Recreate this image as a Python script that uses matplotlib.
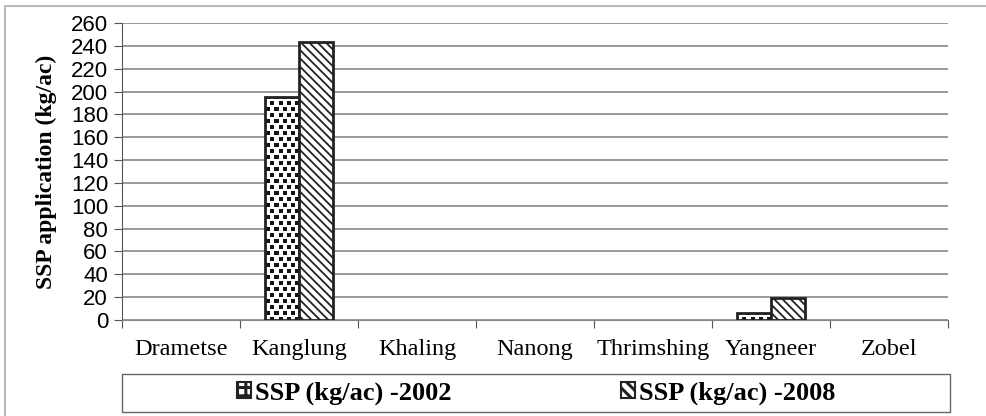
import numpy as np
import matplotlib
matplotlib.use("Agg")
import matplotlib.pyplot as plt
from matplotlib.patches import Rectangle, Patch

sites = ["Drametse", "Kanglung", "Khaling", "Nanong", "Thrimshing", "Yangneer", "Zobel"]
ssp_2002 = [0, 195, 0, 0, 0, 6, 0]
ssp_2008 = [0, 243, 0, 0, 0, 19, 0]
labels = ["SSP (kg/ac) -2002", "SSP (kg/ac) -2008"]
yticks = list(range(0, 261, 20))

W, H = 986, 416
ax_px = (122, 23, 948, 320)  # left, top, right, bottom in pixels

fig = plt.figure(figsize=(W/100, H/100), dpi=100)
ax = fig.add_axes([ax_px[0]/W, 1 - ax_px[3]/H, (ax_px[2]-ax_px[0])/W, (ax_px[3]-ax_px[1])/H])

# square-dot texture (pixel pattern) for the 2002 bars
tw, th = ax_px[2] - ax_px[0], ax_px[3] - ax_px[1]
tex = np.ones((th, tw))
for r in range(0, th, 6):
    shift = 4 if (r // 6) % 2 else 0
    for c in range(shift, tw, 8):
        tex[r:r+4, c:c+4] = 0.08

x = np.arange(len(sites))
w = 0.29
b1 = ax.bar(x - w/2, ssp_2002, w, color="white", edgecolor="none", zorder=2)
for b, v in zip(b1, ssp_2002):
    if v == 0:
        b.set_visible(False)
        continue
    im = ax.imshow(tex[::-1], extent=(-0.5, len(sites) - 0.5, 0, 260), origin="lower",
                   cmap="gray", vmin=0, vmax=1, interpolation="nearest", aspect="auto",
                   zorder=3)
    im.set_clip_path(b)
e1 = ax.bar(x - w/2, ssp_2002, w, fill=False, edgecolor="#222222", linewidth=2, zorder=4)

with plt.rc_context({'hatch.linewidth': 1.3}):
    b2 = ax.bar(x + w/2, ssp_2008, w, color="white", edgecolor="#222222", hatch="\\\\\\\\",
                linewidth=2, zorder=4)

for bars, vals in [(e1, ssp_2002), (b2, ssp_2008)]:
    for b, v in zip(bars, vals):
        if v == 0:
            b.set_visible(False)

ax.set_xlim(-0.5, len(sites) - 0.5)
ax.set_ylim(0, 260)
ax.set_yticks(yticks)
ax.set_yticklabels([str(v) for v in yticks], fontfamily="Liberation Sans", fontsize=16)
ax.yaxis.grid(True, color="#888888", linewidth=1.2, zorder=0)
ax.set_axisbelow(True)
ax.set_xticks(np.arange(-0.5, len(sites)), minor=False)
ax.set_xticklabels([])
ax.set_xticks(x, minor=True)
ax.set_xticklabels(sites, minor=True, fontfamily="Liberation Serif", fontsize=17.5)
ax.tick_params(axis="x", which="minor", length=0, pad=14)
ax.tick_params(axis="x", which="major", length=6, color="#555555")
ax.tick_params(axis="y", length=6, color="#555555", pad=4)
for s in ["top", "right"]:
    ax.spines[s].set_visible(False)
ax.spines["left"].set_color("#555555")
ax.spines["bottom"].set_color("#888888")
ax.set_ylabel("SSP application (kg/ac)", fontfamily="Liberation Serif", fontweight="bold",
              fontsize=17, labelpad=10)

# legend box
fig.patches.append(Rectangle((122/W, 1 - 412/H), (950-122)/W, 38/H,
                             transform=fig.transFigure, fill=False,
                             edgecolor="#666666", linewidth=1.0))
handles = [Patch(facecolor="white", edgecolor="#222222", hatch="++", linewidth=1.5, label=labels[0]),
           Patch(facecolor="white", edgecolor="#222222", hatch="\\\\\\", linewidth=1.5, label=labels[1])]
with plt.rc_context({'hatch.linewidth': 2.2}):
    leg = fig.legend(handles=handles, loc="center",
                     bbox_to_anchor=((122+950)/2/W, 1 - 393/H),
                     ncol=2, frameon=False,
                     prop={"family": "Liberation Serif", "weight": "bold", "size": 19},
                     handlelength=0.55, handleheight=0.55, handletextpad=0.15,
                     columnspacing=6.4, borderpad=0.2)

# outer frame
fig.patches.append(Rectangle((5/W, -0.1), 1.1, 1 - 6/H + 0.1, transform=fig.transFigure,
                             fill=False, edgecolor="#bbbbbb", linewidth=1.5))

fig.savefig("out.png", dpi=100)
